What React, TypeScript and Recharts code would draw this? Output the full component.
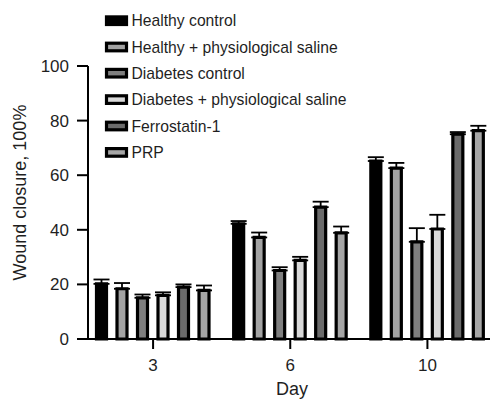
import React from 'react';
import { BarChart, Bar, XAxis, YAxis, ErrorBar, Customized } from 'recharts';

const days = ['3', '6', '10'];
const seriesNames = [
  'Healthy control',
  'Healthy + physiological saline',
  'Diabetes control',
  'Diabetes + physiological saline',
  'Ferrostatin-1',
  'PRP',
];
const seriesColors = ['#000000', '#a3a3a3', '#7f7f7f', '#d9d9d9', '#6b6b6b', '#a6a6a6'];
const healthyControl = [20.2, 42.2, 65.2];
const healthySaline = [18.4, 37.2, 62.6];
const diabetesControl = [15.1, 25.1, 35.6];
const diabetesSaline = [16.0, 28.8, 40.3];
const ferrostatin = [19.0, 48.3, 75.0];
const prp = [17.8, 38.9, 76.3];
const healthyControlErr = [1.6, 1.0, 1.4];
const healthySalineErr = [2.1, 1.8, 1.9];
const diabetesControlErr = [1.2, 1.2, 5.0];
const diabetesSalineErr = [1.1, 1.3, 5.2];
const ferrostatinErr = [1.0, 2.0, 0.8];
const prpErr = [1.8, 2.3, 1.8];
const yTicks = [0, 20, 40, 60, 80, 100];

const values = [healthyControl, healthySaline, diabetesControl, diabetesSaline, ferrostatin, prp];
const errors = [healthyControlErr, healthySalineErr, diabetesControlErr, diabetesSalineErr, ferrostatinErr, prpErr];

const data = days.map((d, i) => {
  const row: any = { day: d };
  values.forEach((v, s) => {
    row['s' + s] = v[i];
    row['e' + s] = [0, errors[s][i]];
  });
  return row;
});

const FONT = '"Liberation Sans", Arial, Helvetica, sans-serif';
const TXT = '#1f1f1f';

const LegendAndLabels = () => {
  const rows = [20.7, 47, 73.2, 99.6, 126, 152.4];
  return (
    <g>
      {seriesNames.map((n, i) => (
        <g key={n}>
          <rect x={106.5} y={rows[i] - 3.8} width={20} height={7.6} fill={seriesColors[i]} stroke="#000" strokeWidth={3.2} />
          <text x={131.5} y={rows[i] + 5.5} fontSize={15.7} fontFamily={FONT} fill={TXT}>{n}</text>
        </g>
      ))}
      <text x={292} y={394.5} textAnchor="middle" fontSize={18} fontFamily={FONT} fill={TXT}>Day</text>
      <text transform="translate(25.7,192.5) rotate(-90)" textAnchor="middle" fontSize={18} fontFamily={FONT} fill={TXT}>Wound closure, 100%</text>
    </g>
  );
};

export default function App() {
  return (
    <div style={{ position: 'absolute', left: 0, top: 0, width: 490, height: 399, overflow: 'hidden', background: '#fff' }}>
      <BarChart
        width={496}
        height={399}
        data={data}
        margin={{ top: 66, right: 0, left: 0, bottom: 0 }}
        barSize={10}
        barGap={10.5}
      >
        <XAxis
          dataKey="day"
          height={60}
          padding={{ left: -3.5, right: 0 }}
          tickSize={10}
          tickMargin={10}
          axisLine={{ stroke: '#000', strokeWidth: 2 }}
          tickLine={{ stroke: '#000', strokeWidth: 2 }}
          tick={{ fontSize: 17, fontFamily: FONT, fill: TXT }}
        />
        <YAxis
          width={88}
          domain={[0, 100]}
          ticks={yTicks}
          interval={0}
          tickSize={11}
          tickMargin={8}
          axisLine={{ stroke: '#000', strokeWidth: 2 }}
          tickLine={{ stroke: '#000', strokeWidth: 2 }}
          tick={{ fontSize: 17, fontFamily: FONT, fill: TXT }}
        />
        {seriesNames.map((n, s) => (
          <Bar key={n} dataKey={'s' + s} name={n} fill={seriesColors[s]} stroke="#000" strokeWidth={3.2} isAnimationActive={false}>
            <ErrorBar dataKey={'e' + s} width={8} stroke="#000" strokeWidth={1.8} direction="y" />
          </Bar>
        ))}
        <Customized component={LegendAndLabels} />
      </BarChart>
    </div>
  );
}
